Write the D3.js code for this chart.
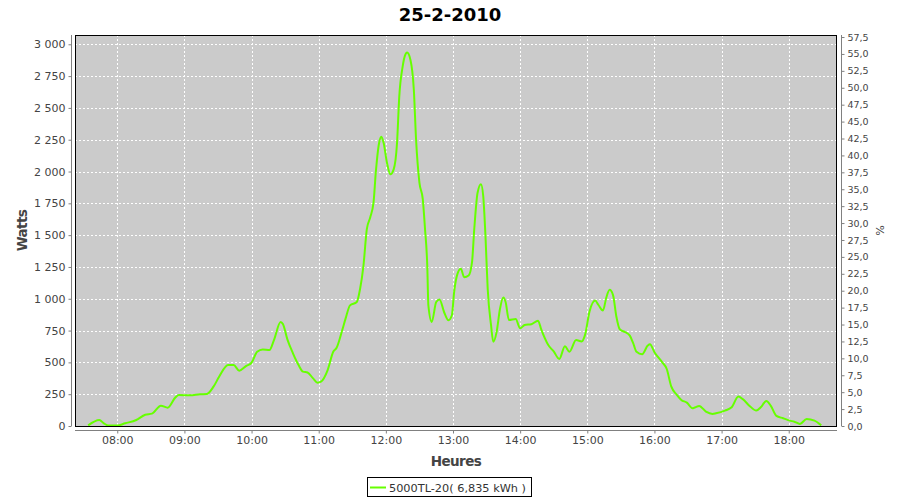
<!DOCTYPE html>
<html>
<head>
<meta charset="utf-8">
<script src="https://cdn.jsdelivr.net/npm/d3@7"></script>
<style>
  html, body { margin: 0; padding: 0; background: #ffffff; }
  svg { display: block; }
</style>
</head>
<body>
<svg id="chart" width="900" height="500"></svg>
<script>
// ---- data ----
const title = "25-2-2010";
const seriesName = "5000TL-20( 6,835 kWh )";
const times = [
  "07:34","07:44","07:48","07:52","08:00","08:07","08:17","08:25","08:31","08:39",
  "08:45","08:52","08:55","09:05","09:14","09:20","09:26","09:31","09:39","09:44",
  "09:49","09:55","10:00","10:05","10:10","10:16","10:20","10:26","10:28","10:32",
  "10:37","10:42","10:46","10:50","10:55","10:59","11:02","11:08","11:13","11:16",
  "11:21","11:24","11:28","11:34","11:37","11:40","11:43","11:46","11:49","11:51",
  "11:54","11:56","11:58","12:01","12:04","12:07","12:10","12:12","12:15","12:17",
  "12:19","12:22","12:25","12:27","12:30","12:33","12:35","12:37","12:38","12:41",
  "12:45","12:48","12:52","12:56","12:59","13:01","13:04","13:07","13:10","13:14",
  "13:17","13:19","13:22","13:25","13:27","13:29","13:31","13:34","13:36","13:39",
  "13:42","13:45","13:47","13:50","13:56","14:00","14:04","14:10","14:16","14:19",
  "14:25","14:30","14:35","14:40","14:44","14:50","14:55","14:58","15:02","15:07",
  "15:10","15:14","15:17","15:20","15:23","15:26","15:29","15:34","15:38","15:41",
  "15:44","15:49","15:54","15:56","16:00","16:07","16:11","16:15","16:20","16:24",
  "16:29","16:34","16:36","16:40","16:46","16:52","16:55","17:03","17:09","17:15",
  "17:19","17:25","17:31","17:35","17:40","17:44","17:49","17:55","18:01","18:05",
  "18:10","18:16","18:23","18:29"
];
const watts = [
  5,47,21,3,3,21,47,89,97,160,
  144,225,243,241,249,251,309,387,479,479,
  435,471,497,584,602,597,675,817,801,681,
  571,479,427,421,374,340,348,440,584,615,
  753,844,948,974,1079,1261,1548,1639,1757,1991,
  2226,2273,2226,2069,1978,2017,2226,2591,2825,2909,
  2935,2877,2643,2252,1913,1783,1548,1261,948,818,
  974,995,896,831,870,1053,1196,1235,1170,1183,
  1287,1548,1835,1900,1809,1496,1079,792,662,740,
  922,1010,974,833,841,768,794,800,828,755,
  638,586,527,626,583,675,665,716,900,986,
  951,907,1010,1070,1029,859,760,737,710,651,
  583,564,632,643,580,500,448,311,245,205,
  184,139,145,158,113,95,100,121,147,232,
  211,158,121,147,197,158,79,61,42,34,
  16,55,42,5
];
const wattTicks = [0,250,500,750,1000,1250,1500,1750,2000,2250,2500,2750,3000];
const pctTicks = d3.range(0, 57.5001, 2.5);
const hourTicks = ["08:00","09:00","10:00","11:00","12:00","13:00","14:00","15:00","16:00","17:00","18:00"];

// ---- layout ----
const svg = d3.select("#chart");
const plot = { left: 75, top: 35, right: 837, bottom: 426 };
const parseT = d3.timeParse("%H:%M:%S");
const parseHM = d3.timeParse("%H:%M");

const x = d3.scaleTime()
  .domain([parseT("07:22:14"), parseT("18:43:08")])
  .range([plot.left, plot.right]);
const y = d3.scaleLinear().domain([0, 3073]).range([plot.bottom, plot.top]);
const yr = d3.scaleLinear().domain([0, 57.8]).range([plot.bottom, plot.top]);

const data = times.map((t, i) => ({ t: parseHM(t), w: watts[i] }));
const hourDates = hourTicks.map(parseHM);

const FONT = "'DejaVu Sans', Verdana, sans-serif";

// plot background
svg.append("rect")
  .attr("x", plot.left).attr("y", plot.top)
  .attr("width", plot.right - plot.left).attr("height", plot.bottom - plot.top)
  .attr("fill", "#cbcbcb");

// gridlines
const grid = svg.append("g").attr("stroke", "#ffffff").attr("stroke-width", 1)
  .attr("stroke-dasharray", "2,2").attr("shape-rendering", "crispEdges");
grid.selectAll(".hg").data(wattTicks.filter(d => d > 0)).join("line")
  .attr("x1", plot.left).attr("x2", plot.right)
  .attr("y1", d => Math.round(y(d)) + 0.5).attr("y2", d => Math.round(y(d)) + 0.5);
grid.selectAll(".vg").data(hourDates).join("line")
  .attr("y1", plot.top).attr("y2", plot.bottom)
  .attr("x1", d => Math.round(x(d)) + 0.5).attr("x2", d => Math.round(x(d)) + 0.5);

// line
const line = d3.line().x(d => x(d.t)).y(d => y(d.w)).curve(d3.curveMonotoneX);
svg.append("path").datum(data)
  .attr("d", line)
  .attr("fill", "none")
  .attr("stroke", "#66ff00")
  .attr("stroke-width", 2)
  .attr("stroke-linejoin", "round");

// plot border
svg.append("rect")
  .attr("x", plot.left + 0.5).attr("y", plot.top + 0.5)
  .attr("width", plot.right - plot.left - 1).attr("height", plot.bottom - plot.top)
  .attr("fill", "none").attr("stroke", "#000000").attr("stroke-width", 1);

// axes
function styleAxis(g, size) {
  g.selectAll(".domain").attr("stroke", "#808080");
  g.selectAll(".tick line").attr("stroke", "#808080");
  g.selectAll("text").attr("fill", "#444444").attr("font-family", FONT).attr("font-size", size);
}

const fmtW = v => d3.format(",")(v).replace(/,/g, " ");
const leftAxis = svg.append("g")
  .attr("transform", "translate(71.5,0)")
  .call(d3.axisLeft(y).tickValues(wattTicks).tickFormat(fmtW).tickSize(3).tickSizeOuter(0).tickPadding(3));
styleAxis(leftAxis, 11);
leftAxis.select(".domain").attr("d", `M0,${plot.top}V${plot.bottom}`);

const fmtP = v => d3.format(".1f")(v).replace(".", ",");
const rightAxis = svg.append("g")
  .attr("transform", "translate(841.5,0)")
  .call(d3.axisRight(yr).tickValues(pctTicks).tickFormat(fmtP).tickSize(3).tickSizeOuter(0).tickPadding(3));
styleAxis(rightAxis, 9.5);
rightAxis.select(".domain").attr("d", `M0,${plot.top}V${plot.bottom}`);

const bottomAxis = svg.append("g")
  .attr("transform", "translate(0,430.5)")
  .call(d3.axisBottom(x).tickValues(hourDates).tickFormat(d3.timeFormat("%H:%M")).tickSize(3).tickSizeOuter(0).tickPadding(3));
styleAxis(bottomAxis, 11);
bottomAxis.select(".domain").attr("d", `M${plot.left},0H${plot.right}`);

// titles
svg.append("text")
  .attr("x", 450).attr("y", 21)
  .attr("text-anchor", "middle")
  .attr("font-family", FONT).attr("font-weight", "bold").attr("font-size", 18)
  .attr("fill", "#000000")
  .text(title);

svg.append("text")
  .attr("transform", `translate(27,${(plot.top + plot.bottom) / 2}) rotate(-90)`)
  .attr("text-anchor", "middle")
  .attr("font-family", FONT).attr("font-weight", "bold").attr("font-size", 13.5)
  .attr("letter-spacing", -0.6)
  .attr("fill", "#444444")
  .text("Watts");

svg.append("text")
  .attr("transform", `translate(876,${(plot.top + plot.bottom) / 2}) rotate(90)`)
  .attr("text-anchor", "middle")
  .attr("font-family", FONT).attr("font-size", 11)
  .attr("fill", "#444444")
  .text("%");

svg.append("text")
  .attr("x", (plot.left + plot.right) / 2).attr("y", 466)
  .attr("text-anchor", "middle")
  .attr("font-family", FONT).attr("font-weight", "bold").attr("font-size", 13.5)
  .attr("letter-spacing", -0.6)
  .attr("fill", "#444444")
  .text("Heures");

// legend
const lg = svg.append("g");
lg.append("rect")
  .attr("x", 367.5).attr("y", 477.5).attr("width", 164).attr("height", 19)
  .attr("fill", "#ffffff").attr("stroke", "#000000").attr("stroke-width", 1);
lg.append("line")
  .attr("x1", 370).attr("x2", 386).attr("y1", 487.5).attr("y2", 487.5)
  .attr("stroke", "#66ff00").attr("stroke-width", 2);
lg.append("text")
  .attr("x", 389).attr("y", 491.5)
  .attr("font-family", FONT).attr("font-size", 11.3)
  .attr("fill", "#333333")
  .text(seriesName);
</script>
</body>
</html>
